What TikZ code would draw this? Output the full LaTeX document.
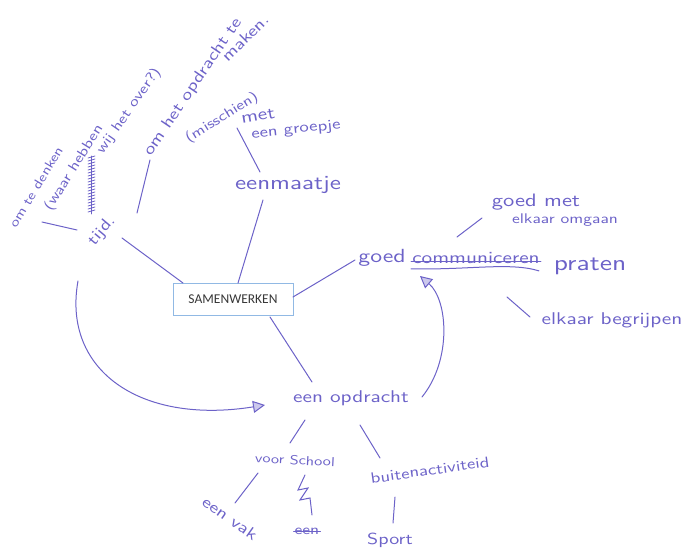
\documentclass[tikz,border=0pt]{standalone}
\usepackage{fontspec}
\usepackage{tikz}
\usetikzlibrary{arrows.meta}

\newfontfamily\boxfont{Carlito}
\newfontfamily\handfont[FakeStretch=1.25]{lmsans10-regular.otf}
\definecolor{ink}{RGB}{108,98,200}
\definecolor{boxline}{RGB}{145,185,228}
\definecolor{boxtext}{RGB}{55,55,55}

\begin{document}
\begin{tikzpicture}[x=1pt,y=-1pt]

\tikzset{
  hand/.style={
    text=ink,
    inner sep=1pt,
    font=\handfont\fontsize{#1}{#1}\selectfont,
  },
  stroke/.style={draw=ink, line width=1pt, line cap=round},
  loop arrow/.style={stroke, -{Triangle[length=12pt,width=12pt,fill=ink!35]}},
  center box/.style={
    draw=boxline, line width=1pt,
    minimum width=120pt, minimum height=32pt,
    text=boxtext, font=\boxfont\fontsize{13.5}{13.5}\selectfont,
  }
}

  \useasboundingbox (0,0) rectangle (688,556);

  % Centre
  \node[center box] (box) at (233,299) {SAMENWERKEN};

  % tijd
  \node[hand=16, rotate=50] (tijd) at (102,231) {tijd.};
  \node[hand=13, rotate=59] (denken) at (36,187) {om te denken};
  \node[hand=14, rotate=58] (waar) at (74,168) {(waar hebben};
  \node[hand=14, rotate=55] (over) at (129,111) {wij het over?)};
  \node[hand=16, rotate=56] (opdrachtte) at (193,87) {om het opdracht te};
  \node[hand=16, rotate=45] (maken) at (245,38) {maken.};

  % een maatje
  \node[hand=14, rotate=32] (misschien) at (222,118) {(misschien)};
  \node[hand=17, rotate=10] (met) at (258,116) {met};
  \node[hand=15, rotate=6] (groepje) at (296,130) {een groepje};
  \node[hand=20] (maatje) at (288,185) {eenmaatje};

  % goed communiceren
  \node[hand=19] (goed) at (382,258) {goed};
  \node[hand=17] (commu) at (476,258) {communiceren};
  \node[hand=22] (praten) at (590,266) {praten};
  \node[hand=18] (goedmet) at (536,202) {goed met};
  \node[hand=14] (omgaan) at (565,220) {elkaar omgaan};
  \node[hand=17] (begrijpen) at (612,320) {elkaar begrijpen};

  % een opdracht
  \node[hand=17] (opdracht) at (351,398) {een opdracht};
  \node[hand=13, rotate=-3] (school) at (295,460) {voor School};
  \node[hand=15, rotate=8] (buiten) at (430,470) {buitenactiviteid};
  \node[hand=16] (sport) at (390,540) {Sport};
  \node[hand=16, rotate=-35] (vak) at (230,518) {een vak};
  \node[hand=14] (een) at (307,531) {een};

  % Crossed out
  \draw[stroke] (commu.mid west) -- (commu.mid east);
  \draw[stroke] ([shift={(0,4)}]commu.south west) .. controls (470,270) and (510,262) .. ([shift={(-2,6)}]commu.south east);
  \draw[stroke] (een.mid west) -- (een.mid east);
  \draw[stroke, line width=0.8pt] (91,156) -- (91,214);
  \foreach \k in {0,...,18}
    \draw[stroke, line width=0.8pt] (88,158+3*\k) -- (95,156+3*\k);

  % Edges
  \draw[stroke] ([shift={(20,7)}]tijd.center) -- ([shift={(-50,-16)}]box.center);
  \draw[stroke] ([shift={(6,35)}]denken.center) -- ([shift={(-25,-1)}]tijd.center);
  \draw[stroke] ([shift={(35,-18)}]tijd.center) -- ([shift={(-43,73)}]opdrachtte.center);

  \draw[stroke] ([shift={(-21,12)}]met.center) -- ([shift={(-28,-13)}]maatje.center);
  \draw[stroke] ([shift={(-25,15)}]maatje.center) -- ([shift={(5,-16)}]box.center);

  \draw[stroke] ([shift={(60,-2)}]box.center) -- ([shift={(-27,2)}]goed.center);
  \draw[stroke] ([shift={(-19,-21)}]commu.center) -- ([shift={(-54,16)}]goedmet.center);
  \draw[stroke] ([shift={(31,39)}]commu.center) -- ([shift={(-82,-3)}]begrijpen.center);

  \draw[stroke] ([shift={(37,18)}]box.center) -- ([shift={(-39,-16)}]opdracht.center);
  \draw[stroke] ([shift={(-46,22)}]opdracht.center) -- ([shift={(-5,-17)}]school.center);
  \draw[stroke] ([shift={(9,27)}]opdracht.center) -- ([shift={(-50,-12)}]buiten.center);
  \draw[stroke] ([shift={(-35,27)}]buiten.center) -- ([shift={(3,-17)}]sport.center);
  \draw[stroke] ([shift={(-37,13)}]school.center) -- ([shift={(5,-15)}]vak.center);
  \draw[stroke] ([shift={(10,15)}]school.center) -- ++(-7,15) -- ++(10,-2)
    -- ++(-8,12) -- ++(10,-2) -- ([shift={(5,-16)}]een.center);

  % Arrows
  \draw[loop arrow] ([shift={(71,-1)}]opdracht.center)
    .. controls (452,360) and (448,300) .. ([shift={(38,18)}]goed.center);
  \draw[loop arrow] ([shift={(-24,50)}]tijd.center)
    .. controls (62,370) and (140,425) .. ([shift={(-86,7)}]opdracht.center);
\end{tikzpicture}
\end{document}
